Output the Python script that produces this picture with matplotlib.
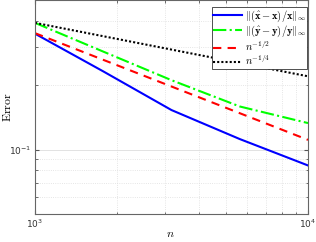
import numpy as np
import matplotlib; matplotlib.use("Agg"); import matplotlib.pyplot as plt
from matplotlib.ticker import LogLocator, NullFormatter

# data
n = [1000, 1778, 3162, 5623, 10000]
err_x = [0.348, 0.232, 0.153, 0.112, 0.0843]
err_y = [0.391, 0.287, 0.211, 0.159, 0.133]
n_ref = [1000, 10000]
ref_half = [0.35, 0.111]     # ~ 11 n^{-1/2}
ref_quarter = [0.391, 0.22]  # ~ 2.2 n^{-1/4}

labels = [r"$\|(\hat{\mathbf{x}}-\mathbf{x})/\mathbf{x}\|_\infty$",
          r"$\|(\hat{\mathbf{y}}-\mathbf{y})/\mathbf{y}\|_\infty$",
          r"$n^{-1/2}$", r"$n^{-1/4}$"]

plt.rcParams["mathtext.fontset"] = "cm"
plt.rcParams["font.family"] = "DejaVu Serif"

fig = plt.figure(figsize=(3.16, 2.42), dpi=100)
ax = fig.add_axes([35/316, 28/242, 273/316, 214/242])

ax.loglog(n, err_x, color="#0000ff", lw=1.5, label=labels[0])
ax.loglog(n, err_y, color="#00ff00", lw=1.5, ls="-.", label=labels[1])
ax.loglog(n_ref, ref_half, color="#ff0000", lw=1.5, ls=(0, (4, 3)), label=labels[2])
ax.loglog(n_ref, ref_quarter, color="k", lw=1.5, ls=(0, (1, 1)), label=labels[3])

ax.set_xlim(1000, 10000)
ax.set_ylim(0.05, 0.5)
ax.yaxis.set_major_locator(LogLocator(base=10, numticks=5))
ax.yaxis.set_minor_locator(LogLocator(base=10, subs=np.arange(2, 10), numticks=20))
ax.yaxis.set_minor_formatter(NullFormatter())
ax.xaxis.set_minor_formatter(NullFormatter())

ax.grid(True, which="major", color="#dddddd", lw=0.6)
ax.grid(True, which="minor", color="#dddddd", lw=0.6, ls=":")
ax.tick_params(which="both", direction="in", top=True, right=True, color="#555555",
               labelsize=6.5, labelcolor="#333333", pad=2.5)
ax.tick_params(which="major", length=3)
ax.tick_params(which="minor", length=1.8)
for lab in ax.get_xticklabels() + ax.get_yticklabels():
    lab.set_family("DejaVu Sans")
    lab.set_math_fontfamily("dejavusans")
for s in ax.spines.values():
    s.set_color("#666666"); s.set_linewidth(0.8)

ax.set_xlabel(r"$n$", fontsize=8.5, va="center")
ax.set_ylabel(r"$\mathrm{Error}$", fontsize=8.5, va="center")
ax.xaxis.set_label_coords(0.495, -0.09)
ax.yaxis.set_label_coords(-0.1, 0.5)

leg = ax.legend(loc="upper right", bbox_to_anchor=(0.997, 0.967), fontsize=7.5,
                frameon=True, fancybox=False, edgecolor="#333333", framealpha=1,
                borderpad=0.12, labelspacing=0.0, handlelength=2.7, handletextpad=0.3,
                borderaxespad=0)
leg.get_frame().set_linewidth(0.6)

fig.savefig("out.png", dpi=100)
